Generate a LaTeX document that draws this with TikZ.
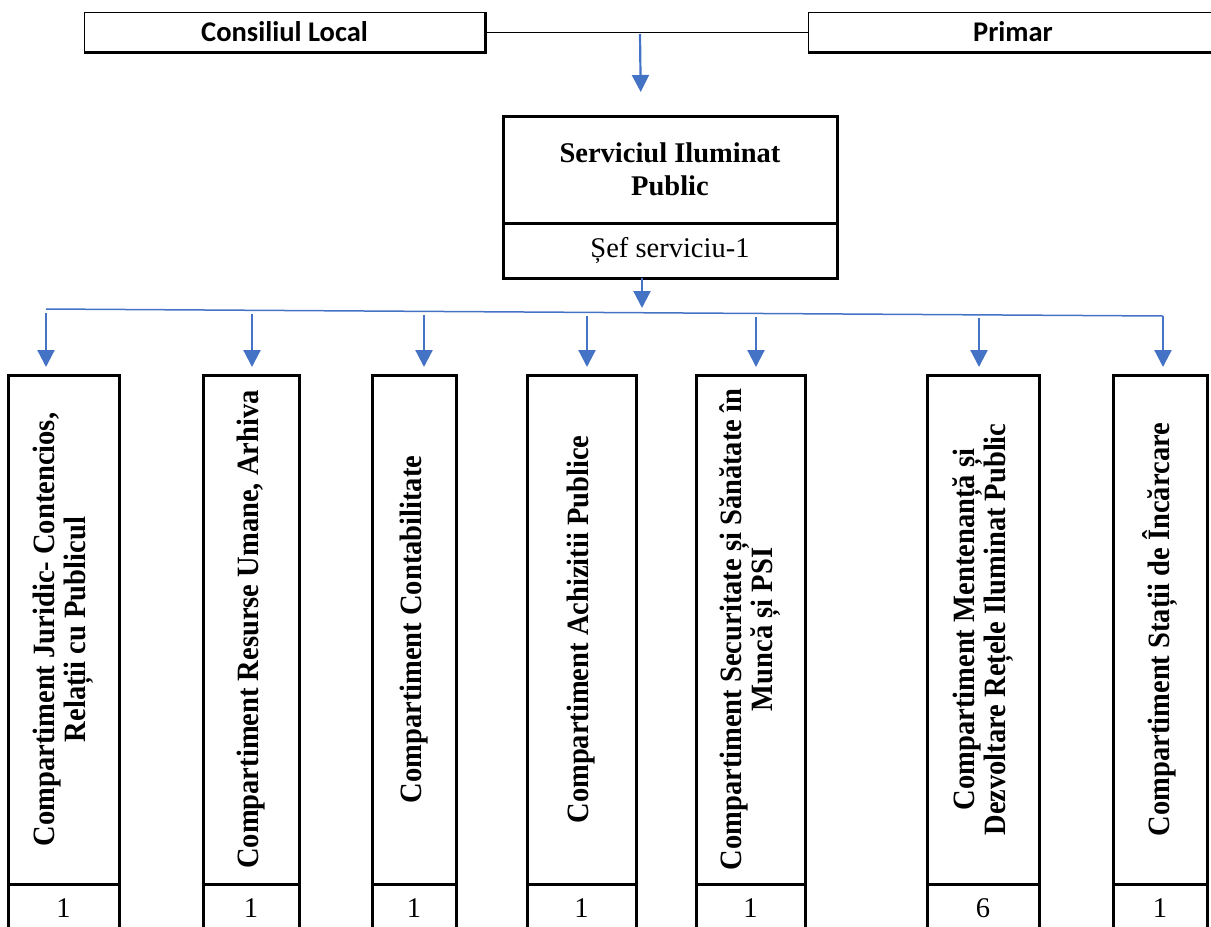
\documentclass[tikz,border=0pt]{standalone}
\usepackage{fontspec}
\setmainfont{Liberation Serif}
\newfontfamily\calibrifont{Carlito}
\newfontfamily\compfont[FakeStretch=0.92]{Liberation Serif}
\usepackage{xcolor}
\usepackage{tikz}
\usetikzlibrary{arrows.meta, positioning}
\definecolor{wordblue}{RGB}{68,114,196}
\newcommand{\boxfont}{\fontsize{28.5}{33}\selectfont}
\newcommand{\compsize}{\fontsize{31}{31}\selectfont}
\begin{document}
\begin{tikzpicture}[x=1pt, y=-1pt,
    topbox/.style={draw, line width=1pt, minimum height=40pt, inner sep=0pt,
        outer sep=0pt, font=\calibrifont\bfseries\boxfont},
    headbox/.style={draw, line width=3pt, minimum width=334pt, inner sep=0pt,
        outer sep=0pt, align=center, font=\boxfont},
    comp/.style={draw, line width=3pt, rotate=90, minimum width=509pt,
        inner sep=0pt, outer sep=0pt, align=center,
        font=\compfont\bfseries\compsize},
    cnt/.style={draw, line width=3pt, minimum height=48pt, inner sep=0pt,
        outer sep=0pt, font=\boxfont},
    flow/.style={draw=wordblue, line width=2.2pt, shorten >=8pt,
        -{Triangle[width=17pt,length=17pt]}},
    bus/.style={draw=wordblue, line width=1.5pt}]
    \useasboundingbox (0,0) rectangle (1211,927);

    % Top level: council and mayor
    \node[topbox, minimum width=401pt] (CL) at (284.5,32) {Consiliul Local};
    \node[topbox, minimum width=410pt] (PR) at (1013,32) {Primar};
    \draw[line width=3pt] (CL.south west) -- (CL.south east) -- (CL.north east);
    \draw[line width=3pt] (PR.south west) -- (PR.south east);
    \draw[line width=1pt] (CL.east) -- (PR.west);

    % Service and its head
    \node[headbox, minimum height=107pt, font=\bfseries\boxfont] (SIP) at (670,169.5)
        {Serviciul Iluminat\\Public};
    \node[headbox, minimum height=55pt] (SEF) [below=0pt of SIP] {Șef serviciu-1};

    \coordinate (T1) at (640,34);
    \coordinate (T2) at (641,116);
    \draw[flow, shorten >=24pt] (T1) -- (T2);
    \coordinate (B0) at (642,316);
    \draw[flow] (SEF.south -| B0) -- (B0);

    % Compartments
    \node[comp, minimum height=111pt] (C1) at (63.5,629.5)
        {Compartiment Juridic- Contencios,\\Relații cu Publicul};
    \node[comp, minimum height=96pt] (C2) at (251,629.5)
        {Compartiment Resurse Umane, Arhiva};
    \node[comp, minimum height=84pt] (C3) at (414,629.5)
        {Compartiment Contabilitate};
    \node[comp, minimum height=109pt] (C4) at (581.5,629.5)
        {Compartiment Achizitii Publice};
    \node[comp, minimum height=109pt] (C5) at (750.5,629.5)
        {Compartiment Securitate și Sănătate în\\Muncă și PSI};
    \node[comp, minimum height=112pt] (C6) at (983,629.5)
        {Compartiment Mentenanță și\\Dezvoltare Rețele Iluminat Public};
    \node[comp, minimum height=94pt] (C7) at (1160,629.5)
        {Compartiment Stații de Încărcare};

    % Number of posts
    \node[cnt, minimum width=111pt] (N1) [below=0pt of C1.west] {1};
    \node[cnt, minimum width=96pt] (N2) [below=0pt of C2.west] {1};
    \node[cnt, minimum width=84pt] (N3) [below=0pt of C3.west] {1};
    \node[cnt, minimum width=109pt] (N4) [below=0pt of C4.west] {1};
    \node[cnt, minimum width=109pt] (N5) [below=0pt of C5.west] {1};
    \node[cnt, minimum width=112pt] (N6) [below=0pt of C6.west] {6};
    \node[cnt, minimum width=94pt] (N7) [below=0pt of C7.west] {1};

    % Distribution line and arrows
    \coordinate (BL) at (46,309);
    \coordinate (BR) at (1163,316);
    \draw[bus] (BL) -- (BR);
    \coordinate (A1) at (46,313);
    \coordinate (A2) at (252,314);
    \coordinate (A3) at (424,315);
    \coordinate (A4) at (587,316);
    \coordinate (A5) at (756,317);
    \coordinate (A6) at (979,318);
    \coordinate (A7) at (1163,316);
    \draw[flow] (A1) -- (A1 |- C1.east);
    \draw[flow] (A2) -- (A2 |- C2.east);
    \draw[flow] (A3) -- (A3 |- C3.east);
    \draw[flow] (A4) -- (A4 |- C4.east);
    \draw[flow] (A5) -- (A5 |- C5.east);
    \draw[flow] (A6) -- (A6 |- C6.east);
    \draw[flow] (A7) -- (A7 |- C7.east);
\end{tikzpicture}
\end{document}
